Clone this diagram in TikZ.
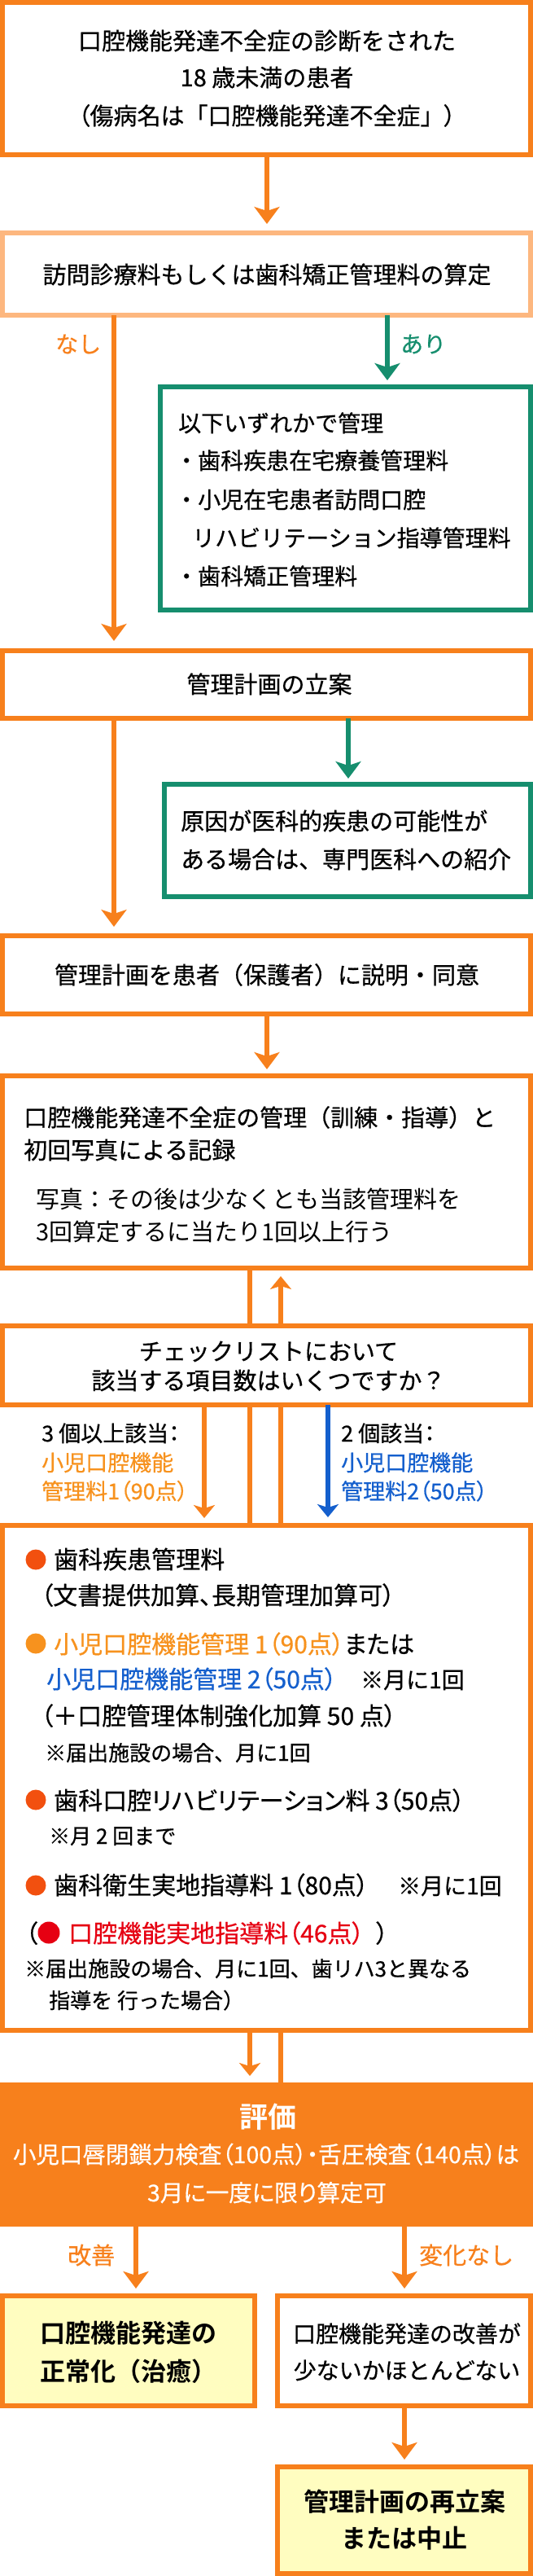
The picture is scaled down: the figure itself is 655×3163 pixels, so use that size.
\documentclass[tikz,border=0pt]{standalone}
\usepackage{fontspec}
\setmainfont{Noto Sans CJK JP}[FakeBold=0.6]
\newfontfamily\pal{Noto Sans CJK JP}[RawFeature=+palt,FakeBold=0.6]
\newfontfamily\lite{Noto Sans CJK JP}
\newfontfamily\heavy{Noto Sans CJK JP Bold}
\usetikzlibrary{arrows.meta,backgrounds}
\definecolor{org}{RGB}{247,128,28}
\definecolor{lorg}{RGB}{253,183,127}
\definecolor{grn}{RGB}{22,142,110}
\definecolor{blu}{RGB}{20,95,205}
\definecolor{rorg}{RGB}{242,80,15}
\definecolor{yorg}{RGB}{247,146,30}
\definecolor{myred}{RGB}{230,0,18}
\definecolor{ylw}{RGB}{255,253,192}
\newcommand\fsz[1]{\fontsize{#1}{#1}\selectfont}
\begin{document}
\begin{tikzpicture}[x=1pt,y=-1pt,
  obox/.style={rectangle,draw=org,line width=6pt,fill=white,inner sep=0pt,outer sep=0pt},
  lbox/.style={obox,draw=lorg},
  gbox/.style={obox,draw=grn},
  ybox/.style={obox,fill=ylw},
  fbox/.style={rectangle,fill=org,draw=none,inner sep=0pt,outer sep=0pt},
  tl/.style={inner sep=0pt,anchor=base west},
  tc/.style={inner sep=0pt,anchor=base},
  dot/.style={circle,inner sep=0pt,minimum size=25pt},
  bigarr/.style={line width=5.5pt,-{Stealth[length=21pt,width=31pt,inset=5pt]}},
  smallarr/.style={line width=5.5pt,-{Stealth[length=16pt,width=26pt,inset=4pt]}}]
\useasboundingbox (0,0) rectangle (655,3163);

% boxes
\node[obox,minimum width=649pt,minimum height=187pt] (b1) at (327.5,96.5) {};
\node[lbox,minimum width=649pt,minimum height=101pt] (b2) at (327.5,336.5) {};
\node[gbox,minimum width=455pt,minimum height=274pt] (g1) at (424.5,612) {};
\node[obox,minimum width=649pt,minimum height=83pt] (b3) at (327.5,840.5) {};
\node[gbox,minimum width=450pt,minimum height=138pt] (g2) at (427,1032) {};
\node[obox,minimum width=649pt,minimum height=96pt] (b4) at (327.5,1197) {};
\node[obox,minimum width=649pt,minimum height=236pt] (b5) at (327.5,1439) {};
\node[obox,minimum width=649pt,minimum height=97pt] (b6) at (327.5,1676.5) {};
\node[obox,minimum width=649pt,minimum height=620pt] (b7) at (327.5,2183) {};
\node[fbox,minimum width=655pt,minimum height=177pt] (b8) at (327.5,2645.5) {};
\node[ybox,minimum width=310pt,minimum height=135pt] (b9) at (158,2886.5) {};
\node[obox,minimum width=311pt,minimum height=135pt] (b10) at (496.5,2886.5) {};
\node[ybox,minimum width=311pt,minimum height=131pt] (b11) at (496.5,3094.5) {};

% x positions of connectors
\coordinate (xa) at (328,0);
\coordinate (xn) at (140,0);
\coordinate (xg1) at (476,0);
\coordinate (xg2) at (428,0);
\coordinate (xl) at (307,0);
\coordinate (xr) at (345,0);
\coordinate (xo) at (251,0);
\coordinate (xb) at (403,0);
\coordinate (xk) at (167,0);
\coordinate (xh) at (497,0);

% connectors
\draw[bigarr,draw=org,shorten >=11pt] (b1.south -| xa) -- (b2.north -| xa);
\draw[bigarr,draw=org,shorten >=12pt] (b2.south -| xn) -- (b3.north -| xn);
\draw[bigarr,draw=grn,shorten >=8pt] (b2.south -| xg1) -- (g1.north -| xg1);
\draw[bigarr,draw=org,shorten >=11pt] (b3.south -| xn) -- (b4.north -| xn);
\draw[bigarr,draw=grn,shorten >=7pt] (b3.south -| xg2) -- (g2.north -| xg2);
\draw[bigarr,draw=org,shorten >=8pt] (b4.south -| xa) -- (b5.north -| xa);
\begin{pgfonlayer}{background}
\draw[smallarr,draw=org,shorten >=8pt] (b5.south -| xl) -- (b8.north -| xl);
\draw[smallarr,draw=org,shorten >=10pt] (b8.north -| xr) -- (b5.south -| xr);
\end{pgfonlayer}
\draw[smallarr,draw=org,shorten >=9pt] (b6.south -| xo) -- (b7.north -| xo);
\draw[smallarr,draw=blu,shorten >=10pt] (b6.south -| xb) -- (b7.north -| xb);
\draw[bigarr,draw=org,shorten >=9pt] (b8.south -| xk) -- (b9.north -| xk);
\draw[bigarr,draw=org,shorten >=9pt] (b8.south -| xh) -- (b10.north -| xh);
\draw[bigarr,draw=org,shorten >=9pt] (b10.south -| xh) -- (b11.north -| xh);

% box 1
\node[tc,font=\fsz{29}] (t1a) at (328,61) {口腔機能発達不全症の診断をされた};
\node[tc,font=\fsz{29}] (t1b) at (328,106) {18 歳未満の患者};
\node[tc,font=\fsz{29}] (t1c) at (328,153) {{\pal （}傷病名は「口腔機能発達不全症」{\pal ）}};
% box 2
\node[tc,font=\fsz{29}] (t2) at (328,348) {訪問診療料もしくは歯科矯正管理料の算定};
\node[tl,font=\fsz{28},text=org] (lnashi) at (68,433) {なし};
\node[tl,font=\fsz{28},text=grn] (lari) at (492,433) {あり};
% green box 1
\node[tl,font=\fsz{28}] (g1a) at (219,530) {以下いずれかで管理};
\node[tl,font=\fsz{28}] (g1b) at (215,576) {・歯科疾患在宅療養管理料};
\node[tl,font=\fsz{28}] (g1c) at (215,624) {・小児在宅患者訪問口腔};
\node[tl,font=\fsz{28}] (g1d) at (236,671) {リハビリテーション指導管理料};
\node[tl,font=\fsz{28}] (g1e) at (215,718) {・歯科矯正管理料};
% box 3
\node[tc,font=\fsz{29}] (t3) at (331,851) {管理計画の立案};
% green box 2
\node[tl,font=\fsz{29}] (g2a) at (222,1019) {原因が医科的疾患の可能性が};
\node[tl,font=\fsz{29}] (g2b) at (222,1066) {ある場合は、専門医科への紹介};
% box 4
\node[tc,font=\fsz{29}] (t4) at (328,1208) {管理計画を患者（保護者）に説明・同意};
% box 5
\node[tl,font=\fsz{29}] (t5a) at (29,1383) {口腔機能発達不全症の管理（訓練・指導）と};
\node[tl,font=\fsz{29}] (t5b) at (29,1423) {初回写真による記録};
\node[tl,font=\lite\fsz{29}] (t5c) at (44,1483) {写真：その後は少なくとも当該管理料を};
\node[tl,font=\lite\fsz{29}] (t5d) at (44,1523) {3回算定するに当たり1回以上行う};
% box 6
\node[tc,font=\fsz{29}] (t6a) at (330,1670) {チェックリストにおいて};
\node[tc,font=\fsz{29}] (t6b) at (330,1706) {該当する項目数はいくつですか？};
% labels under box 6
\node[tl,font=\pal\fsz{27}] (l3a) at (51,1770) {3 個以上該当：};
\node[tl,font=\pal\fsz{27},text=yorg] (l3b) at (51,1806) {小児口腔機能};
\node[tl,font=\pal\fsz{27},text=yorg] (l3c) at (51,1841) {管理料1（90点）};
\node[tl,font=\pal\fsz{27}] (l2a) at (419,1770) {2 個該当：};
\node[tl,font=\pal\fsz{27},text=blu] (l2b) at (419,1806) {小児口腔機能};
\node[tl,font=\pal\fsz{27},text=blu] (l2c) at (419,1841) {管理料2（50点）};
% box 7
\node[dot,fill=rorg] (d1) at (44,1915) {};
\node[tl,font=\pal\fsz{30}] (t7a) at (66,1926) {歯科疾患管理料};
\node[tl,font=\pal\fsz{30}] (t7b) at (50,1970) {（文書提供加算、長期管理加算可）};
\node[dot,fill=yorg] (d2) at (44,2018) {};
\node[tl,font=\pal\fsz{30}] (t7c) at (66,2030) {\textcolor{yorg}{小児口腔機能管理 1（90点）}または};
\node[tl,font=\pal\fsz{30},text=blu] (t7d) at (57,2073) {小児口腔機能管理 2（50点）};
\node[tl,font=\fsz{28}] (t7d2) at (443,2073) {※月に1回};
\node[tl,font=\pal\fsz{30}] (t7e) at (50,2118) {（＋口腔管理体制強化加算 50 点）};
\node[tl,font=\fsz{26}] (t7f) at (55,2162) {※届出施設の場合、月に1回};
\node[dot,fill=rorg] (d3) at (44,2210) {};
\node[tl,font=\pal\fsz{30}] (t7g) at (66,2222) {歯科口腔リハビリテーション料 3（50点）};
\node[tl,font=\fsz{26}] (t7h) at (60,2264) {※月 2 回まで};
\node[dot,fill=rorg] (d4) at (44,2315) {};
\node[tl,font=\pal\fsz{30}] (t7i) at (66,2326) {歯科衛生実地指導料 1（80点）};
\node[tl,font=\fsz{28}] (t7i2) at (489,2326) {※月に1回};
\node[tl,font=\pal\fsz{30}] (t7j1) at (31,2385) {（};
\node[dot,fill=myred,minimum size=27pt] (d5) at (60,2373) {};
\node[tl,font=\pal\fsz{30},text=myred] (t7j2) at (84,2385) {口腔機能実地指導料（46点）};
\node[tl,font=\pal\fsz{30}] (t7j3) at (462,2385) {）};
\node[tl,font=\fsz{26}] (t7k) at (30,2427) {※届出施設の場合、月に1回、歯リハ3と異なる};
\node[tl,font=\fsz{26}] (t7l) at (60,2466) {指導を 行った場合）};
% box 8
\node[tc,font=\heavy\fsz{35},text=white] (t8a) at (329,2612) {評価};
\node[tc,font=\pal\fsz{28.5},text=white] (t8b) at (327,2656) {小児口唇閉鎖力検査（100点）・舌圧検査（140点）は};
\node[tc,font=\pal\fsz{28.5},text=white] (t8c) at (328,2703) {3月に一度に限り算定可};
\node[tl,font=\fsz{29},text=org] (lkai) at (83,2780) {改善};
\node[tl,font=\fsz{29},text=org] (lhen) at (515,2780) {変化なし};
% bottom boxes
\node[tc,font=\heavy\fsz{31}] (t9a) at (158,2876) {口腔機能発達の};
\node[tc,font=\heavy\fsz{31}] (t9b) at (158,2923) {正常化（治癒）};
\node[tc,font=\fsz{28}] (t10a) at (500,2876) {口腔機能発達の改善が};
\node[tc,font=\fsz{28}] (t10b) at (500,2921) {少ないかほとんどない};
\node[tc,font=\heavy\fsz{31}] (t11a) at (497,3083) {管理計画の再立案};
\node[tc,font=\heavy\fsz{31}] (t11b) at (497,3128) {または中止};
\end{tikzpicture}
\end{document}
